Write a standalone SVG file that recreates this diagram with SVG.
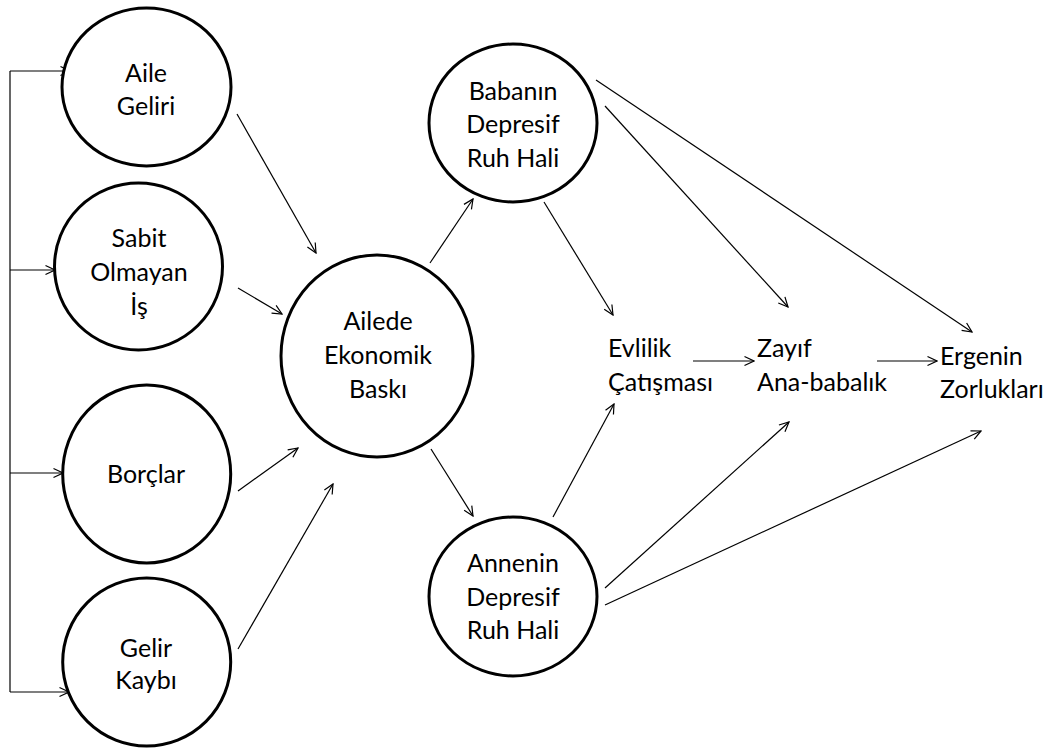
<svg xmlns="http://www.w3.org/2000/svg" width="1047" height="749" viewBox="0 0 1047 749">
<style>
.node{fill:#fff;stroke:#000;stroke-width:3}
.lbl{font-family:Lato,"Liberation Sans",sans-serif;font-size:25px;fill:#000}
.mid{text-anchor:middle}
.con{fill:none;stroke:#000;stroke-width:1.2;marker-end:url(#arr)}
</style>
<defs>
<marker id="arr" markerUnits="userSpaceOnUse" markerWidth="12" markerHeight="12" viewBox="0 0 12 12" refX="11" refY="6" orient="auto">
<path d="M1.5,1.5 L11,6 L1.5,10.5" fill="none" stroke="#000" stroke-width="1.2"/>
</marker>
</defs>
<rect width="1047" height="749" fill="#fff"/>
<g id="connectors">
<path d="M10,71 L10,692" fill="none" stroke="#000" stroke-width="1.2"/>
<line class="con" x1="10" y1="71" x2="70" y2="71"/>
<line class="con" x1="10" y1="270" x2="55" y2="270"/>
<line class="con" x1="10" y1="473" x2="63" y2="473"/>
<line class="con" x1="10" y1="692" x2="69" y2="692"/>
<line class="con" x1="237" y1="114" x2="316" y2="253"/>
<line class="con" x1="238" y1="288" x2="282" y2="314"/>
<line class="con" x1="238" y1="491" x2="298" y2="448"/>
<line class="con" x1="238" y1="649" x2="333" y2="484"/>
<line class="con" x1="430" y1="263" x2="473" y2="199"/>
<line class="con" x1="431" y1="449" x2="473" y2="516"/>
<line class="con" x1="544" y1="202" x2="613" y2="315"/>
<line class="con" x1="605" y1="106" x2="788" y2="307"/>
<line class="con" x1="596" y1="80" x2="972" y2="332"/>
<line class="con" x1="553" y1="517" x2="614" y2="404"/>
<line class="con" x1="605" y1="588" x2="789" y2="422"/>
<line class="con" x1="605" y1="605" x2="981" y2="431"/>
<line class="con" x1="693" y1="361" x2="754" y2="361"/>
<line class="con" x1="877" y1="361" x2="937" y2="361"/>
</g>
<g id="aile-geliri">
<ellipse class="node" cx="146.5" cy="87" rx="84.5" ry="79"/>
<text class="lbl mid" x="146" y="82">Aile</text>
<text class="lbl mid" x="146" y="115">Geliri</text>
</g>
<g id="sabit-olmayan-is">
<ellipse class="node" cx="138.5" cy="266.5" rx="84" ry="83.5"/>
<text class="lbl mid" x="139" y="247">Sabit</text>
<text class="lbl mid" x="139" y="281">Olmayan</text>
<text class="lbl mid" x="139" y="315">İş</text>
</g>
<g id="borclar">
<ellipse class="node" cx="146.7" cy="474" rx="84" ry="89"/>
<text class="lbl mid" x="146" y="483">Borçlar</text>
</g>
<g id="gelir-kaybi">
<ellipse class="node" cx="146.7" cy="662" rx="84" ry="84"/>
<text class="lbl mid" x="146" y="657">Gelir</text>
<text class="lbl mid" x="146" y="689">Kaybı</text>
</g>
<g id="ailede-ekonomik-baski">
<ellipse class="node" cx="377" cy="356" rx="96" ry="101"/>
<text class="lbl mid" x="378" y="330">Ailede</text>
<text class="lbl mid" x="378" y="364">Ekonomik</text>
<text class="lbl mid" x="378" y="398">Baskı</text>
</g>
<g id="babanin-depresif-ruh-hali">
<ellipse class="node" cx="513" cy="123" rx="84" ry="79"/>
<text class="lbl mid" x="513" y="100">Babanın</text>
<text class="lbl mid" x="513" y="133">Depresif</text>
<text class="lbl mid" x="513" y="167">Ruh Hali</text>
</g>
<g id="annenin-depresif-ruh-hali">
<ellipse class="node" cx="513" cy="596.5" rx="84" ry="79.5"/>
<text class="lbl mid" x="513" y="572">Annenin</text>
<text class="lbl mid" x="513" y="606">Depresif</text>
<text class="lbl mid" x="513" y="639">Ruh Hali</text>
</g>
<g id="evlilik-catismasi">
<text class="lbl" x="608" y="357">Evlilik</text>
<text class="lbl" x="608" y="391">Çatışması</text>
</g>
<g id="zayif-ana-babalik">
<text class="lbl" x="757" y="357">Zayıf</text>
<text class="lbl" x="757" y="391">Ana-babalık</text>
</g>
<g id="ergenin-zorluklari">
<text class="lbl" x="940" y="365">Ergenin</text>
<text class="lbl" x="940" y="398">Zorlukları</text>
</g>
</svg>
